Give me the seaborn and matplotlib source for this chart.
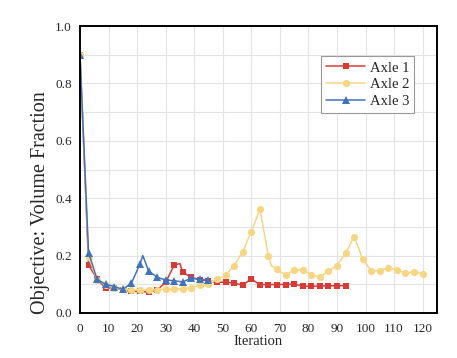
import pandas as pd
import seaborn as sns
import matplotlib.pyplot as plt
from matplotlib.ticker import MultipleLocator

# values (markers every 3 iterations, plus a few peak points)
iter_axle1 = [0, 3, 6, 9, 12, 15, 18, 21, 24, 27, 30, 33, 35, 36, 39, 42, 45, 48, 51, 54,
              57, 60, 63, 66, 69, 72, 75, 78, 81, 84, 87, 90, 93]
vol_axle1 = [0.90, 0.167, 0.118, 0.086, 0.088, 0.080, 0.075, 0.075, 0.072, 0.080, 0.106,
             0.167, 0.172, 0.142, 0.124, 0.115, 0.112, 0.106, 0.108, 0.103, 0.098, 0.118,
             0.099, 0.099, 0.099, 0.099, 0.101, 0.093, 0.093, 0.094, 0.094, 0.095, 0.095]

iter_axle2 = [0, 3, 6, 9, 12, 15, 18, 21, 24, 27, 30, 33, 36, 39, 42, 45, 48, 51, 54, 57,
              60, 63, 66, 67, 69, 72, 75, 78, 81, 84, 87, 90, 93, 96, 99, 102, 105, 108,
              111, 114, 117, 120]
vol_axle2 = [0.90, 0.194, 0.115, 0.098, 0.088, 0.082, 0.080, 0.080, 0.080, 0.081, 0.083,
             0.083, 0.085, 0.088, 0.096, 0.102, 0.117, 0.132, 0.164, 0.214, 0.283, 0.362,
             0.199, 0.165, 0.152, 0.132, 0.150, 0.150, 0.132, 0.126, 0.145, 0.165, 0.208,
             0.266, 0.188, 0.147, 0.147, 0.158, 0.150, 0.138, 0.144, 0.136]

iter_axle3 = [0, 3, 6, 9, 12, 15, 18, 21, 22, 24, 27, 30, 33, 36, 39, 42, 45]
vol_axle3 = [0.90, 0.210, 0.117, 0.100, 0.092, 0.082, 0.103, 0.170, 0.200, 0.147, 0.124,
             0.115, 0.112, 0.108, 0.121, 0.117, 0.115]

labels = ['Axle 1', 'Axle 2', 'Axle 3']
y_ticks = [0.0, 0.2, 0.4, 0.6, 0.8, 1.0]
y_ticklabels = ['0.0', '0.2', '0.4', '0.6', '0.8', '1.0']

sns.set_style("white")
plt.rcParams['font.family'] = ['Liberation Serif', 'DejaVu Serif']

fig = plt.figure(figsize=(4.57, 3.58), dpi=100)
ax = fig.add_axes([0.175, 0.126, 0.781, 0.801])

series = [
    (iter_axle1, vol_axle1, '#d93a35', 's', 4.2),
    (iter_axle2, vol_axle2, '#f7d682', 'o', 5.2),
    (iter_axle3, vol_axle3, '#3f74bd', '^', 5.5),
]
for (xs, ys, col, mk, ms), lab in zip(series, labels):
    df = pd.DataFrame({'Iteration': xs, 'vol': ys})
    every = [i for i, v in enumerate(xs) if v % 3 == 0]
    sns.lineplot(data=df, x='Iteration', y='vol', ax=ax, color=col, marker=mk,
                 markersize=ms, markeredgewidth=0, linewidth=1.1, label=lab,
                 markevery=every, errorbar=None)

ax.xaxis.set_major_locator(MultipleLocator(10))
ax.xaxis.set_minor_locator(MultipleLocator(5))
ax.set_yticks(y_ticks)
ax.set_yticklabels(y_ticklabels)
ax.yaxis.set_minor_locator(MultipleLocator(0.1))
ax.set_xlim(0, 125)
ax.set_ylim(0, 1.0)

ax.grid(True, which='major', axis='x', color='#e4e4e4', linewidth=0.8)
ax.grid(True, which='both', axis='y', color='#e4e4e4', linewidth=0.8)
ax.set_axisbelow(True)

for s in ax.spines.values():
    s.set_color('black')
    s.set_linewidth(1.4)

ax.tick_params(axis='x', which='major', direction='in', length=4, width=1.2, labelsize=9.5, pad=7)
ax.tick_params(axis='x', which='minor', direction='in', length=2.5, width=1.0)
ax.tick_params(axis='y', which='major', direction='out', length=4, width=1.2, labelsize=9.5, pad=2)
ax.tick_params(axis='y', which='minor', direction='out', length=2.5, width=1.0)

ax.set_xlabel('Iteration', fontsize=10.5, labelpad=0)
ax.set_ylabel('Objective: Volume Fraction', fontsize=14.5)
ax.yaxis.set_label_coords(-0.084, 0.383)

leg = ax.legend(loc='upper right', bbox_to_anchor=(0.937, 0.895), fontsize=10.5,
                frameon=True, fancybox=False, edgecolor='#999999', framealpha=1,
                handlelength=2.7, labelspacing=0.25, borderpad=0.35, handletextpad=0.3,
                borderaxespad=0)
leg.get_frame().set_linewidth(0.8)

fig.savefig('out.png', dpi=100)
